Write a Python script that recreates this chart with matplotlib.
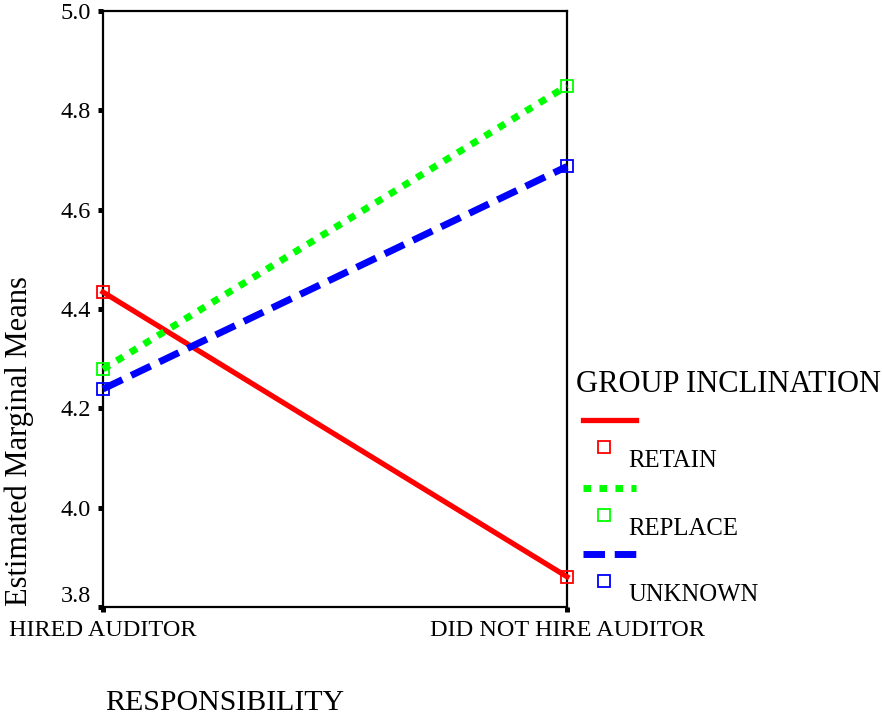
import matplotlib.pyplot as plt
from matplotlib.lines import Line2D

plt.rcParams['font.family'] = ['Liberation Serif', 'DejaVu Serif']

# data
responsibility = ['HIRED AUDITOR', 'DID NOT HIRE AUDITOR']
groups = ['RETAIN', 'REPLACE', 'UNKNOWN']
retain = [4.434, 3.861]
replace = [4.279, 4.849]
unknown = [4.239, 4.687]
yticks = [3.8, 4.0, 4.2, 4.4, 4.6, 4.8, 5.0]

colors = ['#ff0000', '#00ff00', '#0000ff']
styles = [dict(linestyle='-', linewidth=3.8),
          dict(linestyle=(0, (1.1, 1.2)), linewidth=5, dash_capstyle='butt'),
          dict(linestyle=(0, (3.1, 1.4)), linewidth=5, dash_capstyle='butt')]

W, H = 882, 719
fig = plt.figure(figsize=(W / 100, H / 100), dpi=100)


def fx(x):
    return x / W


def fy(y):
    return 1 - y / H


ax = fig.add_axes([fx(103), fy(607), fx(567) - fx(103), fy(11) - fy(607)])

x = list(range(len(responsibility)))
for vals, c, st in zip([retain, replace, unknown], colors, styles):
    ax.plot(x, vals, color=c, **st, zorder=3, clip_on=False)
    ax.plot(x, vals, linestyle='none', marker='s', markersize=9,
            markerfacecolor='none', markeredgecolor=c, markeredgewidth=1.3,
            zorder=4, clip_on=False)

ax.set_xlim(0, 1)
ax.set_ylim(3.8, 5.0)
ax.set_yticks(yticks)
ax.set_yticklabels([f'{v:.1f}' for v in yticks])
ax.set_xticks(x)
ax.set_xticklabels(responsibility)
ax.tick_params(axis='both', direction='out', length=3.6, width=3.6,
               labelsize=17.5, pad=5)
ax.tick_params(axis='x', pad=6)
ax.get_yticklabels()[0].set_verticalalignment('bottom')
for s in ax.spines.values():
    s.set_linewidth(1.6)

fig.text(fx(19), fy(441), 'Estimated Marginal Means', rotation=90,
         ha='center', va='center', fontsize=22)
fig.text(fx(105), fy(703), 'RESPONSIBILITY', ha='left', va='center',
         fontsize=21.5)

# legend, SPSS style
fig.text(fx(576), fy(385), 'GROUP INCLINATION', ha='left', va='center',
         fontsize=22)
line_y = [420, 488, 554]
for i, (g, c, st) in enumerate(zip(groups, colors, styles)):
    ly = line_y[i]
    fig.add_artist(Line2D([fx(583), fx(636)], [fy(ly), fy(ly)], color=c,
                          transform=fig.transFigure, **st))
    fig.add_artist(Line2D([fx(604)], [fy(ly + 27)], marker='s', markersize=9,
                          markerfacecolor='none', markeredgecolor=c,
                          markeredgewidth=1.3, linestyle='none',
                          transform=fig.transFigure))
    fig.text(fx(628), fy(ly + 41), g, ha='left', va='center', fontsize=17.8)

fig.savefig('out.png', dpi=100)
